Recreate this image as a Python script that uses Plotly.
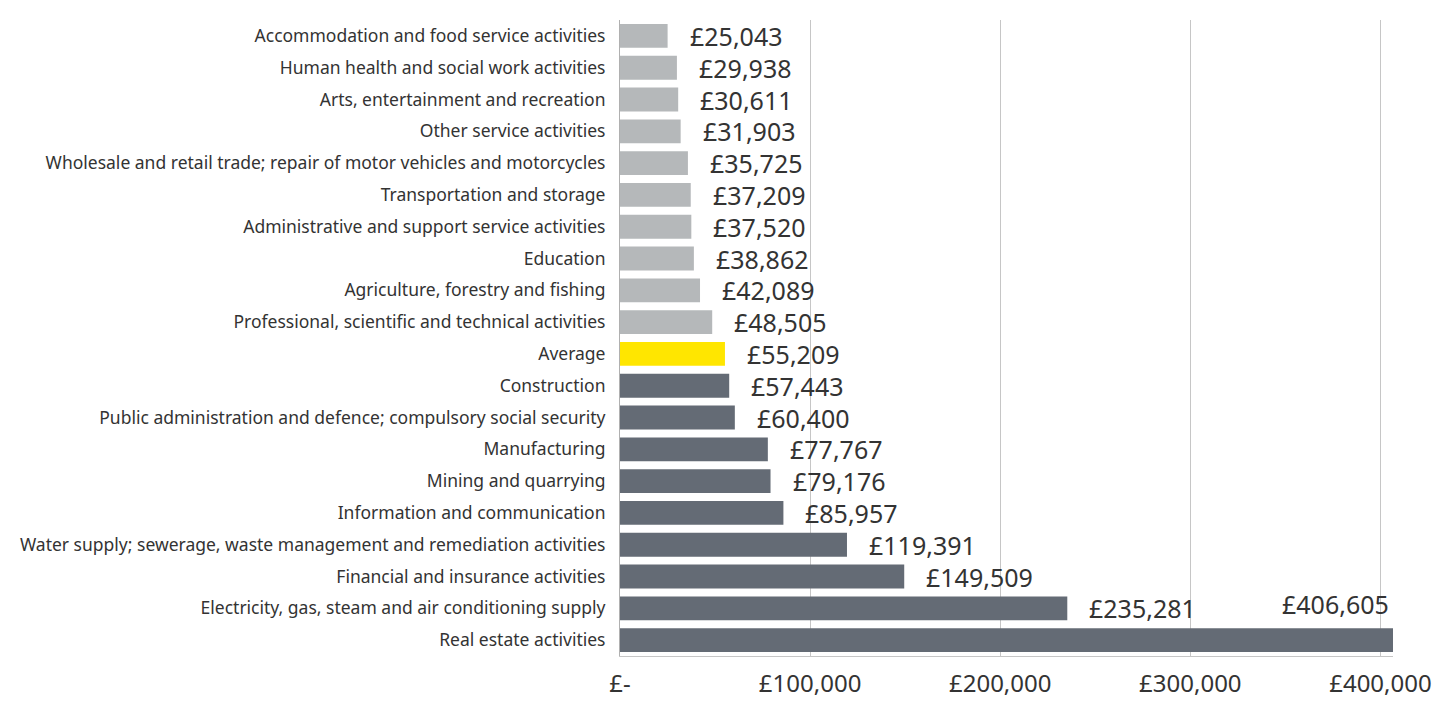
import plotly.graph_objects as go

sectors = [
    "Accommodation and food service activities",
    "Human health and social work activities",
    "Arts, entertainment and recreation",
    "Other service activities",
    "Wholesale and retail trade; repair of motor vehicles and motorcycles",
    "Transportation and storage",
    "Administrative and support service activities",
    "Education",
    "Agriculture, forestry and fishing",
    "Professional, scientific and technical activities",
    "Average",
    "Construction",
    "Public administration and defence; compulsory social security",
    "Manufacturing",
    "Mining and quarrying",
    "Information and communication",
    "Water supply; sewerage, waste management and remediation activities",
    "Financial and insurance activities",
    "Electricity, gas, steam and air conditioning supply",
    "Real estate activities",
]
gva_per_worker = [25043, 29938, 30611, 31903, 35725, 37209, 37520, 38862, 42089, 48505,
                  55209, 57443, 60400, 77767, 79176, 85957, 119391, 149509, 235281, 406605]
tick_vals = [0, 100000, 200000, 300000, 400000]
tick_text = ["£-", "£100,000", "£200,000", "£300,000", "£400,000"]

LIGHT, AVG, DARK = "#B5B8BA", "#FFE600", "#646B75"
avg_val = gva_per_worker[sectors.index("Average")]
colors = [AVG if s == "Average" else (LIGHT if v < avg_val else DARK)
          for s, v in zip(sectors, gva_per_worker)]

fig = go.Figure(go.Bar(
    x=gva_per_worker, y=sectors, orientation="h",
    marker=dict(color=colors, line=dict(width=0)),
    hoverinfo="skip",
))

# value labels: outside the bar end, except the longest which sits above its bar
for s, v in zip(sectors, gva_per_worker):
    if v == max(gva_per_worker):
        fig.add_annotation(x=v, y=s, text=f"£{v:,}", showarrow=False,
                           xanchor="right", yanchor="middle", xshift=-2, yshift=36,
                           font=dict(size=25, color="#333333"))
    else:
        fig.add_annotation(x=v, y=s, text=f"£{v:,}", showarrow=False,
                           xanchor="left", yanchor="middle", xshift=20,
                           font=dict(size=25, color="#333333"))

# page body adds an 8px offset, so the figure is sized/margined to compensate
fig.update_layout(
    width=1435, height=693,
    margin=dict(l=612, r=50, t=12, b=45),
    paper_bgcolor="white", plot_bgcolor="white",
    font=dict(family="Noto Sans, sans-serif", color="#333333"),
    bargap=0.25, showlegend=False,
    xaxis=dict(range=[0, max(gva_per_worker)], tickvals=tick_vals, ticktext=tick_text,
               showgrid=True, gridcolor="#C6C6C6", gridwidth=1,
               zeroline=False, showline=True, linecolor="#C6C6C6", linewidth=1,
               ticks="", ticklabelstandoff=6, automargin=False,
               tickfont=dict(size=24, color="#333333")),
    yaxis=dict(categoryorder="array", categoryarray=sectors, range=[19.5, -0.5],
               showline=True, linecolor="#B0B0B0", linewidth=1, ticks="",
               ticklabelstandoff=10, automargin=False,
               tickfont=dict(size=17.5, color="#333333")),
)

fig.write_html("out.html")
